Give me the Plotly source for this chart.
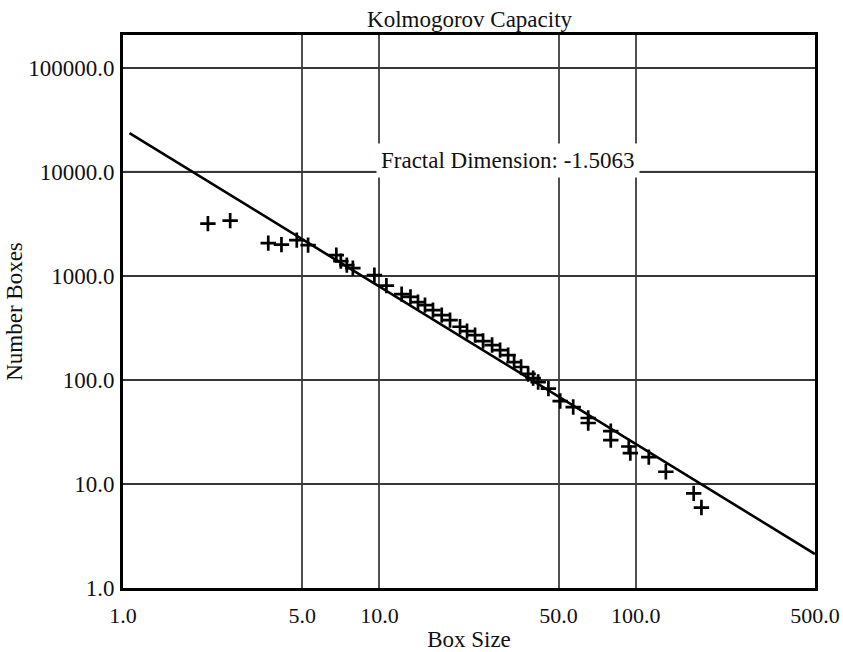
import math
import plotly.graph_objects as go

# ---- data ----
box_size = [2.144, 2.618, 3.686, 4.150, 4.762, 5.271, 6.792, 7.072, 7.464, 7.880,
            9.561, 10.65, 12.21, 13.22, 14.14, 15.06, 16.18, 17.50, 18.86, 20.63,
            21.97, 23.61, 25.37, 27.51, 29.56, 31.77, 33.53, 35.70, 38.02, 39.78,
            41.60, 45.63, 50.71, 57.00, 65.23, 65.23, 79.88, 79.88, 93.9, 95.2,
            112.4, 131.0, 168.2, 180.3]
number_boxes = [3173, 3391, 2062, 1994, 2203, 1972, 1581, 1384, 1267, 1186,
                1016, 805, 667, 628, 559, 523, 468, 419, 375, 324,
                294, 269, 236, 216, 193, 173, 148, 133, 114, 104,
                95.3, 82.5, 62.6, 54.8, 43.0, 38.5, 32.2, 26.4, 22.9, 19.8,
                18.1, 13.1, 8.12, 5.93]

fit_x = [1.06, 500.0]
fit_y = [23490.0, 2.12]

x_ticks = [1, 5, 10, 50, 100, 500]
x_ticklabels = ["1.0", "5.0", "10.0", "50.0", "100.0", "500.0"]
y_ticks = [1, 10, 100, 1000, 10000, 100000]
y_ticklabels = ["1.0", "10.0", "100.0", "1000.0", "10000.0", "100000.0"]
light_grid_y = [10, 10000]

title_text = "Kolmogorov Capacity"
annot_text = "Fractal Dimension: -1.5063"

FONT = "Liberation Serif, Times New Roman, serif"
FS = 23

fig = go.Figure()
fig.add_trace(go.Scatter(x=fit_x, y=fit_y, mode="lines",
                         line=dict(color="black", width=2.6), showlegend=False))
fig.add_trace(go.Scatter(x=box_size, y=number_boxes, mode="markers",
                         marker=dict(symbol="cross-thin", size=11,
                                     line=dict(color="black", width=2.7)),
                         showlegend=False))

for v in light_grid_y:
    fig.add_shape(type="line", xref="paper", x0=0, x1=1, yref="y",
                  y0=v, y1=v,
                  line=dict(color="#a8a8a8", width=2), layer="between")

fig.add_annotation(text=annot_text, xref="paper", yref="paper", x=0.556, y=0.805,
                   showarrow=False, bgcolor="white", borderpad=4,
                   font=dict(family=FONT, size=FS, color="#111"))

fig.update_layout(
    width=843, height=652,
    margin=dict(l=123, r=28, t=35, b=64, autoexpand=False),
    paper_bgcolor="white", plot_bgcolor="white",
    font=dict(family=FONT, size=FS, color="#111"),
    title=dict(text=title_text, x=0.557, xanchor="center", y=0.971, yanchor="middle",
               automargin=False,
               font=dict(family=FONT, size=FS, color="#111")),
)
fig.update_xaxes(type="log", range=[0, math.log10(500)], automargin=False,
                 tickvals=x_ticks, ticktext=x_ticklabels, ticks="",
                 tickfont=dict(family=FONT, size=22, color="#111"),
                 showgrid=True, gridcolor="#505050", gridwidth=2,
                 showline=True, linecolor="black", linewidth=3, mirror=True,
                 zeroline=False, ticklabelstandoff=6,
                 title=dict(text="Box Size", standoff=13,
                            font=dict(family=FONT, size=FS)))
fig.update_yaxes(type="log", range=[0, 5.314], automargin=False,
                 tickvals=y_ticks, ticktext=y_ticklabels, ticks="",
                 showgrid=True, gridcolor="#383838", gridwidth=2,
                 showline=True, linecolor="black", linewidth=3, mirror=True,
                 zeroline=False, ticklabelstandoff=1,
                 title=dict(text="Number Boxes", standoff=0,
                            font=dict(family=FONT, size=FS)))

fig.write_html("out.html", config={"displayModeBar": False},
               post_script="document.body.style.margin='0';document.body.style.overflow='hidden';")
